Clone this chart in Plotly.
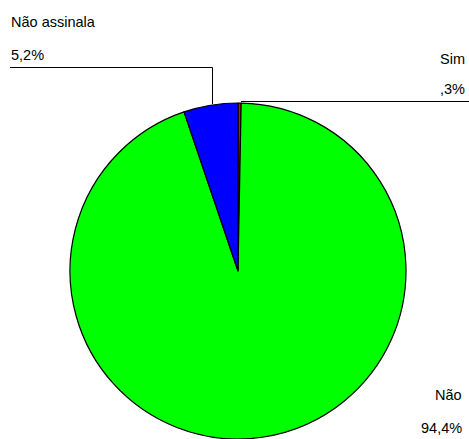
import plotly.graph_objects as go

# Survey answers (share of respondents, %)
categories = ["Sim", "Não", "Não assinala"]
values = [0.3, 94.4, 5.2]
value_labels = [",3%", "94,4%", "5,2%"]
colors = ["#FF0000", "#00FF00", "#0000FF"]

W, H = 469, 439
FONT = dict(family="Liberation Sans, Arial, sans-serif", size=14.5, color="#000000")


def px(x):
    return x / W


def py(y):
    return 1 - y / H


fig = go.Figure(
    go.Pie(
        labels=categories,
        values=values,
        sort=False,
        direction="clockwise",
        rotation=0,
        marker=dict(colors=colors, line=dict(color="#000000", width=1.2)),
        textinfo="none",
        hoverinfo="label+percent",
        showlegend=False,
        domain=dict(x=[px(69), px(407)], y=[0, py(271 - 168)]),
    )
)

annotations = [
    # Não assinala (top left)
    dict(x=px(9), y=py(22), text=categories[2], xanchor="left"),
    dict(x=px(9), y=py(55), text=value_labels[2], xanchor="left"),
    # Sim (top right)
    dict(x=px(467), y=py(59), text=categories[0], xanchor="right"),
    dict(x=px(467), y=py(89), text=value_labels[0], xanchor="right"),
    # Não (bottom right)
    dict(x=px(464), y=py(395), text=categories[1], xanchor="right"),
    dict(x=px(464), y=py(428), text=value_labels[1], xanchor="right"),
]
for a in annotations:
    a.update(xref="paper", yref="paper", yanchor="middle", showarrow=False, font=FONT)

# Leader lines from the labels to their slices
line = dict(color="#000000", width=1)
shapes = [
    dict(type="line", xref="paper", yref="paper",
         x0=px(10), y0=py(67.5), x1=px(212.5), y1=py(67.5), line=line),
    dict(type="line", xref="paper", yref="paper",
         x0=px(212.5), y0=py(67.5), x1=px(212.5), y1=py(104), line=line),
    dict(type="line", xref="paper", yref="paper",
         x0=px(241), y0=py(101.5), x1=px(469), y1=py(101.5), line=line),
]

fig.update_layout(
    width=W,
    height=H,
    margin=dict(l=0, r=0, t=0, b=0),
    paper_bgcolor="#FFFFFF",
    plot_bgcolor="#FFFFFF",
    annotations=annotations,
    shapes=shapes,
)

fig.write_html("out.html")
